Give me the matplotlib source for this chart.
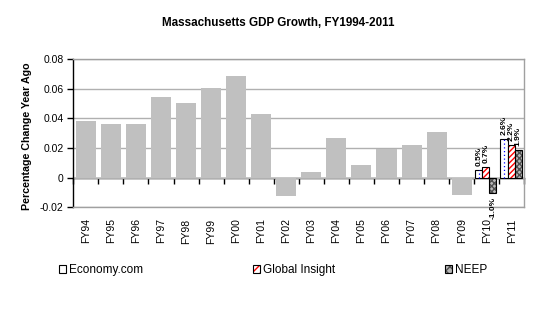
import matplotlib
matplotlib.use("Agg")
import matplotlib.pyplot as plt
from matplotlib.patches import Patch
import numpy as np

plt.rcParams['font.family'] = ['Liberation Sans', 'DejaVu Sans']
plt.rcParams['hatch.linewidth'] = 1.0

years = ["FY94", "FY95", "FY96", "FY97", "FY98", "FY99", "FY00", "FY01", "FY02",
         "FY03", "FY04", "FY05", "FY06", "FY07", "FY08", "FY09", "FY10", "FY11"]
actual = [0.0382, 0.0362, 0.0362, 0.0545, 0.0504, 0.0606, 0.0687, 0.0429, -0.0124,
          0.0036, 0.0267, 0.0084, 0.0197, 0.0219, 0.0307, -0.0117, 0.0, 0.0]
forecast_years = ["FY10", "FY11"]
economy = [0.0054, 0.0262]
global_insight = [0.0072, 0.0218]
neep = [-0.0102, 0.0188]
series_names = ["Economy.com", "Global Insight", "NEEP"]

fig = plt.figure(figsize=(5.6, 3.22), dpi=100)
ax = fig.add_axes([73.3 / 560, 1 - 207.3 / 322, (524.3 - 73.3) / 560, (207.3 - 59.3) / 322])

x = np.arange(len(years))
ax.bar(x, actual, width=0.8, color='#c0c0c0', zorder=2)

fx = np.array([years.index(y) for y in forecast_years])
w = 0.28
shift = -0.03
offs = [-w + shift, shift, w + shift]

# Economy.com: white with blue dotted centre line
ax.bar(fx + offs[0], economy, width=w, facecolor='white', edgecolor='black', lw=0.8, zorder=3)
for xi, v in zip(fx + offs[0], economy):
    ax.plot([xi, xi], [0, v], color='#0000ff', lw=0.9, ls=(0, (1, 2)), zorder=4)
# Global Insight: red diagonal hatch
ax.bar(fx + offs[1], global_insight, width=w, facecolor='white', edgecolor='#ff0000', hatch='//////', lw=0, zorder=3)
ax.bar(fx + offs[1], global_insight, width=w, fill=False, edgecolor='black', lw=0.8, zorder=4)
# NEEP: grey checker
ax.bar(fx + offs[2], neep, width=w, facecolor='#b8b8b8', edgecolor='#505050', hatch='xxxxxx', lw=0, zorder=3)
ax.bar(fx + offs[2], neep, width=w, fill=False, edgecolor='black', lw=0.8, zorder=4)

# data labels
for vals, off in zip([economy, global_insight, neep], offs):
    for xi, v in zip(fx + off, vals):
        if v >= 0:
            ax.annotate(f"{v:.1%}", (xi, v), xytext=(0, 3), textcoords='offset points',
                        rotation=90, ha='center', va='bottom', fontsize=6, fontweight='bold', zorder=5)
        else:
            ax.annotate(f"{v:.1%}", (xi, v), xytext=(0, -3), textcoords='offset points',
                        rotation=90, ha='center', va='top', fontsize=6, fontweight='bold', zorder=5)

ymin, ymax = -0.02, 0.08
ax.set_ylim(ymin, ymax)
ax.set_xlim(-0.5, len(years) - 0.5)
ax.set_yticks([-0.02, 0, 0.02, 0.04, 0.06, 0.08])
ax.set_yticklabels(["-0.02", "0", "0.02", "0.04", "0.06", "0.08"])
ax.yaxis.grid(True, color='#b0b0b0', lw=1.0, zorder=0)
ax.set_axisbelow(True)
ax.tick_params(axis='y', length=4, width=1, direction='out', pad=3, labelsize=7.5, color='black')

ax.set_xticks(x)
ax.set_xticklabels(years, rotation=90, fontsize=7.5)
ax.tick_params(axis='x', length=0, pad=8)

for s in ['top', 'right', 'bottom']:
    ax.spines[s].set_color('#a0a0a0')
    ax.spines[s].set_linewidth(1.0)
ax.spines['left'].set_color('black')
ax.spines['left'].set_linewidth(1.0)

# zero axis with category boundary ticks
zero_frac = (0 - ymin) / (ymax - ymin)
sec = ax.secondary_xaxis(zero_frac)
sec.set_xticks(np.arange(len(years) + 1) - 0.5)
sec.tick_params(axis='x', direction='out', length=4, width=1, labelbottom=False, labeltop=False,
                bottom=True, top=False, color='black')
sec.xaxis.set_ticks_position('bottom')
sec.tick_params(labelbottom=False)
sec.spines['bottom'].set_color('black')
sec.spines['bottom'].set_linewidth(1.0)
for s in ['top', 'left', 'right']:
    sec.spines[s].set_visible(False)

fig.text(0.497, 1 - 22.5 / 322, "Massachusetts GDP Growth, FY1994-2011", ha='center', va='center',
         fontsize=8.4, fontweight='bold')
fig.text(27 / 560, 1 - 136.5 / 322, "Percentage Change Year Ago", rotation=90, ha='center', va='center',
         fontsize=7.7, fontweight='bold')

h1 = Patch(facecolor='white', edgecolor='black', lw=0.8)
h2 = (Patch(facecolor='white', edgecolor='#ff0000', hatch='////', lw=0),
      Patch(fill=False, edgecolor='black', lw=0.8))
h3 = (Patch(facecolor='#b8b8b8', edgecolor='#505050', hatch='xxxx', lw=0),
      Patch(fill=False, edgecolor='black', lw=0.8))
fig.legend([h1, h2, h3], series_names, loc='center', bbox_to_anchor=(273 / 560, 1 - 270 / 322),
           ncol=3, frameon=False, fontsize=8.5, handlelength=0.6, handleheight=0.6,
           handletextpad=0.3, columnspacing=9.25, borderaxespad=0)

fig.savefig("out.png", dpi=100)
